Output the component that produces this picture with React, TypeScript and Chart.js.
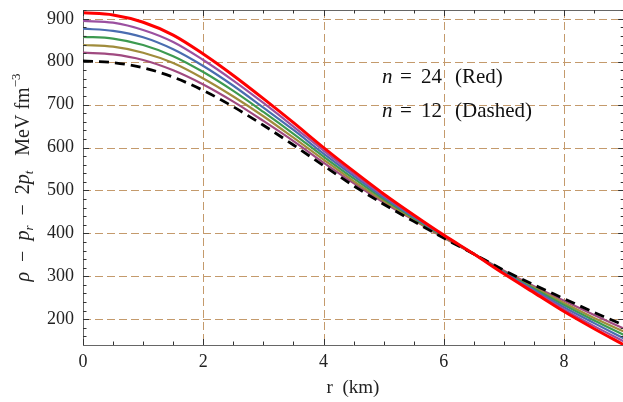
import React, { useEffect, useRef } from 'react';
import { Chart, registerables } from 'chart.js';

Chart.register(...registerables);

// radius (km)
const radius = [0, 0.5, 1, 1.5, 2, 2.5, 3, 3.5, 4, 4.5, 5, 5.5, 6, 6.5, 7, 7.5, 8, 8.5, 9];

// rho - p_r - 2 p_t (MeV fm^-3) for each n
const n12 = [802, 798, 786, 764, 733, 695, 652, 606, 558, 511, 468, 428, 389, 352, 314, 280, 248, 216, 186];
const n14 = [821, 817, 804, 780, 747, 707, 662, 615, 565, 517, 472, 431, 390, 352, 313, 277, 243, 210, 178];
const n16 = [839, 835, 821, 797, 761, 719, 673, 623, 572, 522, 476, 433, 391, 352, 311, 274, 238, 203, 171];
const n18 = [858, 854, 839, 813, 776, 732, 683, 632, 579, 528, 480, 436, 393, 352, 310, 271, 233, 197, 163];
const n20 = [877, 872, 857, 829, 790, 744, 693, 641, 586, 534, 484, 438, 394, 352, 309, 268, 228, 191, 155];
const n22 = [895, 891, 874, 846, 804, 756, 704, 649, 593, 539, 488, 441, 395, 352, 307, 265, 223, 184, 148];
const n24 = [914, 909, 892, 862, 818, 768, 714, 658, 600, 545, 492, 443, 396, 352, 306, 262, 218, 178, 140];

const xTickValues = [0, 2, 4, 6, 8];
const yTickValues = [200, 300, 400, 500, 600, 700, 800, 900];
const xRange = [0, 8.98];
const yRange = [140, 920.5];

const xTitle = 'r  (km)';
const noteLines = [
  { n: '24', tag: '(Red)' },
  { n: '12', tag: '(Dashed)' },
];

const SERIF = '"Liberation Serif", "Times New Roman", serif';
const GRID = '#c49a6c';

const pts = (arr: number[]) => radius.map((r, i) => ({ x: r, y: arr[i] }));

const gridPlugin = {
  id: 'dashgrid',
  beforeDatasetsDraw(chart: any) {
    const { ctx, chartArea: ca, scales } = chart;
    ctx.save();
    ctx.strokeStyle = GRID;
    ctx.lineWidth = 1;
    ctx.setLineDash([8, 4]);
    ctx.beginPath();
    for (const v of xTickValues) {
      const px = Math.round(scales.x.getPixelForValue(v)) + 0.5;
      if (px <= ca.left + 1) continue;
      ctx.moveTo(px, ca.top);
      ctx.lineTo(px, ca.bottom);
    }
    for (const v of yTickValues) {
      const py = Math.round(scales.y.getPixelForValue(v)) + 0.5;
      ctx.moveTo(ca.left, py);
      ctx.lineTo(ca.right, py);
    }
    ctx.stroke();
    ctx.restore();
  },
};

const decorPlugin = {
  id: 'decor',
  afterDraw(chart: any) {
    const { ctx, chartArea: ca, scales } = chart;
    const xs = scales.x;
    const ys = scales.y;
    ctx.save();
    const rightX = xs.getPixelForValue(9);
    // frame top & right
    ctx.strokeStyle = '#666';
    ctx.lineWidth = 1;
    ctx.beginPath();
    ctx.moveTo(ca.left, Math.round(ca.top) + 0.5);
    ctx.lineTo(rightX, Math.round(ca.top) + 0.5);
    ctx.moveTo(rightX - 0.5, ca.top);
    ctx.lineTo(rightX - 0.5, ca.bottom);
    ctx.stroke();

    // inward ticks
    ctx.strokeStyle = '#333';
    ctx.lineWidth = 1;
    ctx.beginPath();
    for (let i = 0; i <= 18; i++) {
      const v = i * 0.5;
      const px = Math.round(xs.getPixelForValue(v)) + 0.5;
      const len = i % 4 === 0 ? 6 : 3.5;
      ctx.moveTo(px, ca.bottom);
      ctx.lineTo(px, ca.bottom - len);
      ctx.moveTo(px, ca.top);
      ctx.lineTo(px, ca.top + len);
    }
    for (let v = 140; v <= 920; v += 20) {
      const py = Math.round(ys.getPixelForValue(v)) + 0.5;
      if (py < ca.top || py > ca.bottom) continue;
      const len = v % 100 === 0 ? 6 : 3.5;
      ctx.moveTo(ca.left, py);
      ctx.lineTo(ca.left + len, py);
      ctx.moveTo(rightX, py);
      ctx.lineTo(rightX - len, py);
    }
    ctx.stroke();

    // y-axis title with sub/superscripts
    const big = 20;
    const small = 13;
    const segs = [
      { t: 'ρ', it: true },
      { t: '  −  ', it: false },
      { t: 'p', it: true },
      { t: 'r', it: true, dy: 4, sm: true },
      { t: '  −  2', it: false },
      { t: 'p', it: true },
      { t: 't', it: true, dy: 4, sm: true },
      { t: '   MeV fm', it: false },
      { t: '−3', it: false, dy: -9, sm: true },
    ];
    const fontOf = (s: any) => `${s.it ? 'italic ' : ''}${s.sm ? small : big}px ${SERIF}`;
    let total = 0;
    for (const s of segs) {
      ctx.font = fontOf(s);
      total += ctx.measureText(s.t).width;
    }
    ctx.translate(22, (ca.top + ca.bottom) / 2);
    ctx.rotate(-Math.PI / 2);
    ctx.fillStyle = '#222';
    ctx.textBaseline = 'alphabetic';
    ctx.textAlign = 'left';
    let cx = -total / 2;
    for (const s of segs) {
      ctx.font = fontOf(s);
      ctx.fillText(s.t, cx, 7 + (s.dy || 0));
      cx += ctx.measureText(s.t).width;
    }
    ctx.setTransform(1, 0, 0, 1, 0, 0);

    // annotation
    ctx.fillStyle = '#111';
    const baseYs = [83, 117];
    noteLines.forEach((ln, i) => {
      const by = baseYs[i];
      ctx.font = `italic 21px ${SERIF}`;
      ctx.fillText('n', 382, by);
      ctx.font = `21px ${SERIF}`;
      ctx.fillText('=', 400, by);
      ctx.fillText(ln.n, 421, by);
      ctx.fillText(ln.tag, 455, by);
    });
    ctx.restore();
  },
};

export default function App() {
  const ref = useRef<HTMLCanvasElement | null>(null);
  useEffect(() => {
    if (!ref.current) return;
    const tickFont = { family: SERIF, size: 18 };
    const mk = (label: string, arr: number[], color: string, width: number, dash?: number[]) => ({
      label,
      data: pts(arr),
      borderColor: color,
      backgroundColor: color,
      borderWidth: width,
      borderDash: dash || [],
      pointRadius: 0,
      fill: false,
      cubicInterpolationMode: 'monotone' as const,
    });
    const chart = new Chart(ref.current, {
      type: 'line',
      data: {
        datasets: [
          mk('n = 24', n24, '#ff0000', 3),
          mk('n = 12', n12, '#000000', 2.8, [10, 6]),
          mk('n = 22', n22, '#9b50a0', 2.2),
          mk('n = 20', n20, '#4a6db0', 2.2),
          mk('n = 18', n18, '#3d9a50', 2.2),
          mk('n = 16', n16, '#a08c3c', 2.2),
          mk('n = 14', n14, '#a04a80', 2.2),
        ],
      },
      options: {
        responsive: false,
        animation: false,
        devicePixelRatio: 1,
        layout: { padding: { top: 10, right: 0, bottom: 0, left: 0 } },
        plugins: { legend: { display: false }, tooltip: { enabled: false } },
        scales: {
          x: {
            type: 'linear',
            min: xRange[0],
            max: xRange[1],
            afterBuildTicks: (s: any) => {
              s.ticks = xTickValues.map((v) => ({ value: v }));
            },
            afterFit: (s: any) => {
              s.height = 57;
              s.paddingLeft = 0;
              s.paddingRight = 0;
            },
            ticks: {
              font: tickFont,
              color: '#222',
              padding: 6,
              maxRotation: 0,
              autoSkip: false,
              callback: (v: any) => String(v),
            },
            grid: { display: false, drawTicks: false },
            border: { display: true, color: '#666', width: 1 },
            title: {
              display: true,
              text: xTitle,
              font: { family: SERIF, size: 19 },
              color: '#222',
              padding: { top: 0, bottom: 3 },
            },
          },
          y: {
            type: 'linear',
            min: yRange[0],
            max: yRange[1],
            afterBuildTicks: (s: any) => {
              s.ticks = yTickValues.map((v) => ({ value: v }));
            },
            afterFit: (s: any) => {
              s.width = 83;
              s.paddingTop = 0;
              s.paddingBottom = 0;
            },
            ticks: {
              font: tickFont,
              color: '#222',
              padding: 9,
              autoSkip: false,
              callback: (v: any) => String(v),
            },
            grid: { display: false, drawTicks: false },
            border: { display: true, color: '#666', width: 1 },
          },
        },
      },
      plugins: [gridPlugin, decorPlugin],
    });
    return () => chart.destroy();
  }, []);
  return (
    <div style={{ position: 'fixed', left: 0, top: 0, width: 623, height: 402, background: '#fff' }}>
      <canvas ref={ref} width={623} height={402} style={{ display: 'block' }} />
    </div>
  );
}
